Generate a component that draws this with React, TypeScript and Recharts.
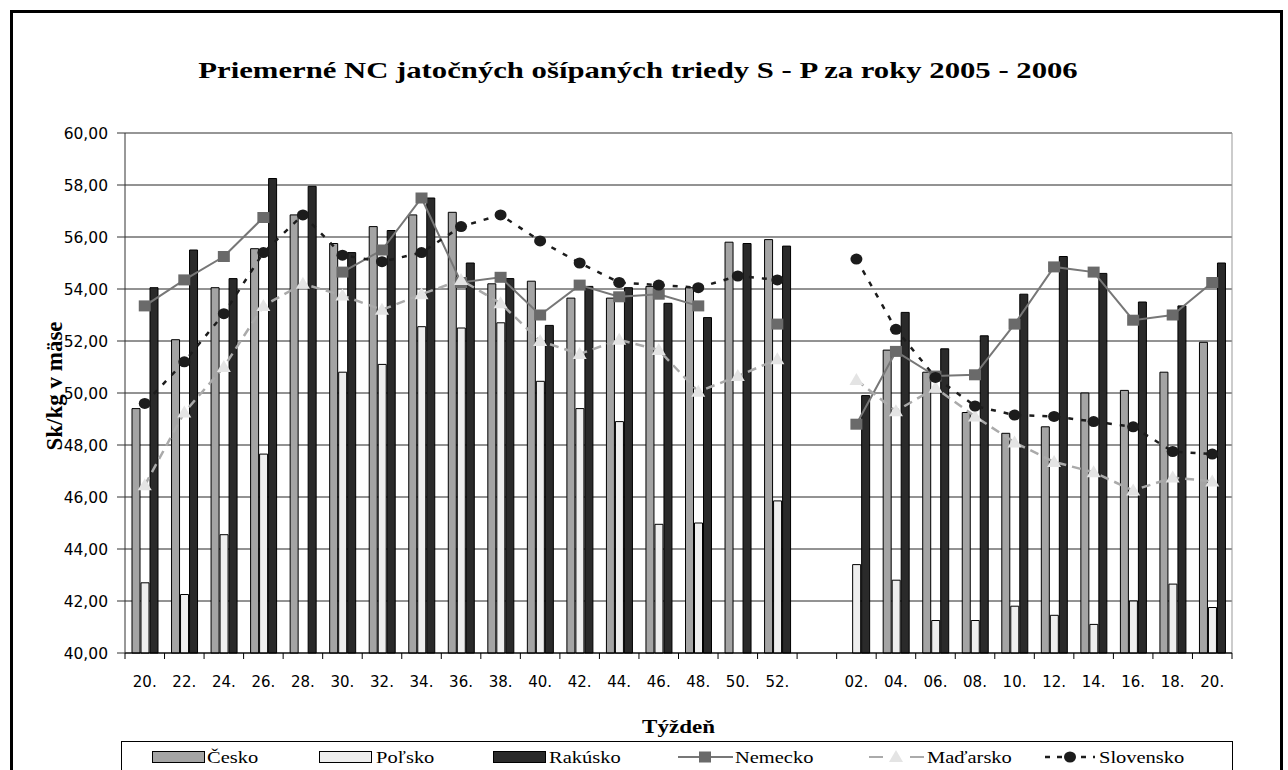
import React from "react";
import {
  ComposedChart,
  Bar,
  Line,
  XAxis,
  YAxis,
  CartesianGrid,
  ReferenceLine,
} from "recharts";

const weeks = [
  "20.", "22.", "24.", "26.", "28.", "30.", "32.", "34.", "36.", "38.",
  "40.", "42.", "44.", "46.", "48.", "50.", "52.", "",
  "02.", "04.", "06.", "08.", "10.", "12.", "14.", "16.", "18.", "20.",
];

const cesko = [
  49.4, 52.05, 54.05, 55.55, 56.85, 55.75, 56.4, 56.85, 56.95, 54.2,
  54.3, 53.65, 53.65, 54.1, 54.05, 55.8, 55.9, null,
  null, 51.65, 50.8, 49.25, 48.45, 48.7, 50.0, 50.1, 50.8, 51.95,
];
const polsko = [
  42.7, 42.25, 44.55, 47.65, null, 50.8, 51.1, 52.55, 52.5, 52.7,
  50.45, 49.4, 48.9, 44.95, 45.0, null, 45.85, null,
  43.4, 42.8, 41.25, 41.25, 41.8, 41.45, 41.1, 42.0, 42.65, 41.75,
];
const rakusko = [
  54.05, 55.5, 54.4, 58.25, 57.95, 55.4, 56.25, 57.5, 55.0, 54.4,
  52.6, 54.1, 54.05, 53.45, 52.9, 55.75, 55.65, null,
  49.9, 53.1, 51.7, 52.2, 53.8, 55.25, 54.6, 53.5, 53.35, 55.0,
];
const nemecko = [
  53.35, 54.35, 55.25, 56.75, null, 54.65, 55.5, 57.5, 54.25, 54.45,
  53.0, 54.15, 53.7, 53.8, 53.35, null, 52.65, null,
  48.8, 51.6, 50.65, 50.7, 52.65, 54.85, 54.65, 52.8, 53.0, 54.25,
];
const madarsko = [
  46.45, 49.25, 51.0, 53.35, 54.2, 53.75, 53.2, 53.8, 54.35, 53.45,
  52.0, 51.5, 52.05, 51.65, 50.05, 50.65, 51.3, null,
  50.5, 49.3, 50.2, 49.1, 48.1, 47.35, 46.95, 46.25, 46.75, 46.6,
];
const slovensko = [
  49.6, 51.2, 53.05, 55.4, 56.85, 55.3, 55.05, 55.4, 56.4, 56.85,
  55.85, 55.0, 54.25, 54.15, 54.05, 54.5, 54.35, null,
  55.15, 52.45, 50.6, 49.5, 49.15, 49.1, 48.9, 48.7, 47.75, 47.65,
];

const yTicks = [40, 42, 44, 46, 48, 50, 52, 54, 56, 58, 60];

const data = weeks.map((w, i) => ({
  key: `${i}-${w}`,
  week: w,
  cesko: cesko[i],
  polsko: polsko[i],
  rakusko: rakusko[i],
  nemecko: nemecko[i],
  madarsko: madarsko[i],
  slovensko: slovensko[i],
}));

const W = 1288;
const H = 770;
const PLOT_LEFT = 125;
const PLOT_RIGHT = 1232;
const PLOT_TOP = 133;
const PLOT_BOTTOM = 653;
const BAND = (PLOT_RIGHT - PLOT_LEFT) / weeks.length;
// the source picture is stretched sideways, so text is widened too
const SX = 1.28;

const serif = "'Liberation Serif', 'Times New Roman', serif";
const sans = "'DejaVu Sans', Verdana, sans-serif";

const XTick = (props: any) => {
  const { x, index } = props;
  const half = BAND / 2;
  return (
    <g>
      <line x1={x - half} x2={x - half} y1={PLOT_BOTTOM} y2={PLOT_BOTTOM + 6} stroke="#000" />
      {index === weeks.length - 1 && (
        <line x1={x + half} x2={x + half} y1={PLOT_BOTTOM} y2={PLOT_BOTTOM + 6} stroke="#000" />
      )}
      <text x={x} y={PLOT_BOTTOM + 34} textAnchor="middle" fontFamily={sans} fontSize={15} fill="#000">
        {weeks[index]}
      </text>
    </g>
  );
};

const SquareDot = (props: any) => {
  const { cx, cy, value, index } = props;
  if (value == null || cy == null) return <g key={`sq-${index}`} />;
  return <rect key={`sq-${index}`} x={cx - 6} y={cy - 5.5} width={12} height={11} fill="#6a6a6a" />;
};

const TriangleDot = (props: any) => {
  const { cx, cy, value, index } = props;
  if (value == null || cy == null) return <g key={`tr-${index}`} />;
  return (
    <polygon
      key={`tr-${index}`}
      points={`${cx},${cy - 7} ${cx - 7},${cy + 5} ${cx + 7},${cy + 5}`}
      fill="#e4e4e4"
    />
  );
};

const CircleDot = (props: any) => {
  const { cx, cy, value, index } = props;
  if (value == null || cy == null) return <g key={`ci-${index}`} />;
  return <ellipse key={`ci-${index}`} cx={cx} cy={cy} rx={6} ry={5.5} fill="#1c1c1c" />;
};

const legendItems = [
  { name: "Česko", kind: "bar", fill: "#a4a4a4", x: 152, tx: 207 },
  { name: "Poľsko", kind: "bar", fill: "#eeeeee", x: 319, tx: 376 },
  { name: "Rakúsko", kind: "bar", fill: "#2a2a2a", x: 493, tx: 549 },
  { name: "Nemecko", kind: "nem", x: 678, tx: 735 },
  { name: "Maďarsko", kind: "mad", x: 869, tx: 927 },
  { name: "Slovensko", kind: "slo", x: 1045, tx: 1099 },
];

const LEG_LEFT = 121;
const LEG_TOP = 741;

function LegendBox() {
  const w = PLOT_RIGHT - LEG_LEFT;
  return (
    <svg
      width={w + 1}
      height={H - LEG_TOP}
      style={{ position: "absolute", left: LEG_LEFT, top: LEG_TOP }}
    >
      <rect x={0.5} y={0.5} width={w} height={60} fill="#fff" stroke="#000" />
      {legendItems.map((it) => {
        const x = it.x - LEG_LEFT;
        const cy = 16;
        let mark: React.ReactNode = null;
        if (it.kind === "bar") {
          mark = <rect x={x + 0.5} y={cy - 5.5} width={52} height={11} fill={it.fill} stroke="#000" />;
        } else if (it.kind === "nem") {
          mark = (
            <g>
              <line x1={x} x2={x + 55} y1={cy} y2={cy} stroke="#777" strokeWidth={2} />
              <rect x={x + 21} y={cy - 5.5} width={12} height={11} fill="#6a6a6a" />
            </g>
          );
        } else if (it.kind === "mad") {
          mark = (
            <g>
              <line x1={x} x2={x + 14} y1={cy} y2={cy} stroke="#aaa" strokeWidth={2} />
              <line x1={x + 41} x2={x + 55} y1={cy} y2={cy} stroke="#aaa" strokeWidth={2} />
              <polygon points={`${x + 27},${cy - 7} ${x + 20},${cy + 5} ${x + 34},${cy + 5}`} fill="#e4e4e4" />
            </g>
          );
        } else {
          mark = (
            <g>
              <line x1={x} x2={x + 50} y1={cy} y2={cy} stroke="#1c1c1c" strokeWidth={2.5} strokeDasharray="5 7" />
              <ellipse cx={x + 25} cy={cy} rx={6} ry={5.5} fill="#1c1c1c" />
            </g>
          );
        }
        return (
          <g key={it.name}>
            {mark}
            <text
              transform={`translate(${it.tx - LEG_LEFT}, ${cy + 6}) scale(${SX}, 1)`}
              fontFamily={serif}
              fontSize={16}
              fill="#000"
            >
              {it.name}
            </text>
          </g>
        );
      })}
    </svg>
  );
}

export default function App() {
  return (
    <div style={{ position: "absolute", left: 0, top: 0, width: W, height: H, background: "#fff", overflow: "hidden" }}>
      <div
        style={{
          position: "absolute",
          left: 10,
          top: 10,
          width: 1273,
          height: 800,
          border: "3px solid #000",
          boxSizing: "border-box",
        }}
      />
      <div style={{ position: "absolute", left: 0, top: 0 }}>
        <ComposedChart
          width={W}
          height={H}
          data={data}
          margin={{ top: PLOT_TOP, right: W - PLOT_RIGHT, bottom: H - PLOT_BOTTOM - 30, left: 0 }}
          barSize={8}
          barGap={1}
        >
          <CartesianGrid vertical={false} stroke="#000" strokeOpacity={0.85} />
          <CartesianGrid horizontal={false} verticalPoints={[PLOT_RIGHT]} stroke="#999" />
          <ReferenceLine y={60} stroke="#999" />
          <XAxis
            dataKey="key"
            height={30}
            interval={0}
            tickLine={false}
            axisLine={{ stroke: "#000" }}
            tick={(p: any) => <XTick {...p} />}
          />
          <YAxis
            width={PLOT_LEFT}
            domain={[40, 60]}
            ticks={yTicks}
            interval={0}
            tickSize={8}
            tickMargin={9}
            axisLine={{ stroke: "#333" }}
            tickLine={{ stroke: "#333" }}
            tick={{ fontFamily: sans, fontSize: 15.5, fill: "#000" }}
            tickFormatter={(v: number) => v.toFixed(2).replace(".", ",")}
          />
          <Bar dataKey="cesko" fill="#a4a4a4" stroke="#000" strokeWidth={1} isAnimationActive={false} />
          <Bar dataKey="polsko" fill="#eeeeee" stroke="#000" strokeWidth={1} isAnimationActive={false} />
          <Bar dataKey="rakusko" fill="#2a2a2a" stroke="#000" strokeWidth={1} isAnimationActive={false} />
          <Line
            dataKey="nemecko"
            stroke="#777"
            strokeWidth={2}
            dot={SquareDot}
            activeDot={false}
            isAnimationActive={false}
          />
          <Line
            dataKey="madarsko"
            stroke="#aaa"
            strokeWidth={2.5}
            strokeDasharray="9 6"
            dot={TriangleDot}
            activeDot={false}
            isAnimationActive={false}
          />
          <Line
            dataKey="slovensko"
            stroke="#1c1c1c"
            strokeWidth={2.5}
            strokeDasharray="5 8"
            dot={CircleDot}
            activeDot={false}
            isAnimationActive={false}
          />
          <text
            transform={`translate(638, 78) scale(${SX}, 1)`}
            textAnchor="middle"
            fontFamily={serif}
            fontWeight="bold"
            fontSize={24}
            fill="#000"
          >
            Priemerné NC jatočných ošípaných triedy S - P za roky 2005 - 2006
          </text>
          <text
            transform={`translate(62, 386) rotate(-90)`}
            textAnchor="middle"
            fontFamily={serif}
            fontWeight="bold"
            fontSize={23}
            fill="#000"
          >
            Sk/kg v mäse
          </text>
          <text
            transform={`translate(${(PLOT_LEFT + PLOT_RIGHT) / 2}, 733) scale(${SX}, 1)`}
            textAnchor="middle"
            fontFamily={serif}
            fontWeight="bold"
            fontSize={18}
            fill="#000"
          >
            Týždeň
          </text>
        </ComposedChart>
      </div>
      <LegendBox />
    </div>
  );
}
